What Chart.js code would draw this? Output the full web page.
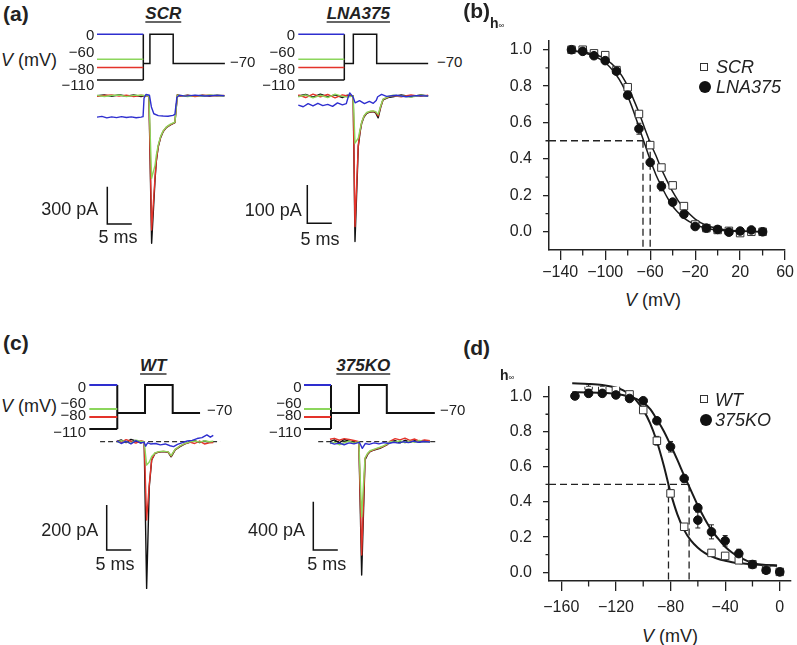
<!DOCTYPE html>
<html>
<head>
<meta charset="utf-8">
<script src="https://cdn.jsdelivr.net/npm/chart.js@4.4.1/dist/chart.umd.min.js"></script>
<style>
  body { margin: 0; background: #fff; }
  #fig { position: relative; width: 797px; height: 645px; overflow: hidden; background: #fff;
         font-family: 'Liberation Sans', Arial, sans-serif; color: #222; }
  #fig canvas { position: absolute; }
  .lb { position: absolute; line-height: 1; white-space: nowrap; }
</style>
</head>
<body>
<div id="fig">
  <canvas id="scr"></canvas>
  <canvas id="lna"></canvas>
  <canvas id="wt"></canvas>
  <canvas id="ko"></canvas>
  <canvas id="panelB"></canvas>
  <canvas id="panelD"></canvas>
</div>
<script>
// ---- voltage protocol (mV) ----
const prepulseLevels = [0, -60, -80, -110];
const testLevel = 0;
const holdLevel = -70;
// prepulse start, prepulse end, test on, test off, end (ms)
const scrProto = [0, 9.45, 10.8, 15.55, 26.1];
const lnaProto = [0, 9.39, 11.23, 16.0, 26.5];
const wtProto = [0, 5.71, 11.37, 17.02, 22.6];
const koProto = [0, 5.51, 11.22, 16.9, 26.7];
const barMs = 5;

// ---- current traces (ms, pA) ----
const scrT = [0, 1.5, 3, 4.5, 6, 7.5, 9, 10, 10.6, 11.15, 11.84, 12.1, 12.5, 13, 13.5, 14.2, 14.9, 15.9, 16.15, 16.4, 17, 18.5, 20, 21.5, 23, 24.5, 26];
const scrBlack = [0, 6, -5, 8, -4, 6, -6, 3, 0, -1186, -678, -530, -410, -335, -289, -255, -236, -217, -110, 8, -3, 5, -4, 4, -3, 5, 0];
const scrRed = [-4, 2, 7, -3, 5, -6, 4, -2, 0, -1080, -660, -520, -405, -330, -286, -252, -234, -215, -105, 6, -5, 3, -6, 2, 4, -3, 2];
const scrGreen = [3, -6, 2, 6, -7, 3, 5, 0, 0, -664, -560, -480, -395, -325, -283, -250, -231, -212, -100, 4, 2, -6, 3, -4, 6, 0, -3];
const scrBlueT = [0, 1, 2, 3, 4, 5, 6, 7, 8, 9, 9.4, 9.6, 10.0, 10.7, 11.1, 11.6, 12.5, 13.5, 14.5, 15.5, 15.9, 16.3, 16.8, 18, 20, 22, 24, 26];
const scrBlue = [-172, -166, -178, -170, -176, -168, -175, -170, -177, -172, -168, -20, 10, 4, -90, -145, -160, -163, -165, -158, -150, -15, 4, -3, 5, -2, 3, 0];

const lnaT = [0, 1.5, 3, 4.5, 6, 7.5, 9, 10, 11.2, 11.57, 12.24, 12.6, 12.94, 13.4, 13.96, 14.6, 15.3, 15.8, 16.3, 16.8, 17.3, 18.3, 19.3, 21, 23, 25, 26.5];
const lnaBlack = [0, 4, -3, 5, -2, 3, -4, 2, 0, -380, -132, -95, -71, -55, -45, -42, -41, -44, -57, -30, -10, -4, -2, 3, -2, 3, 0];
const lnaRed = [3, -4, 5, -2, 4, -5, 3, 0, 0, -341, -128, -92, -69, -53, -44, -41, -40, -42, -52, -28, -9, -3, 1, -2, 3, -1, 2];
const lnaGreen = [-2, 3, -5, 2, -4, 5, -1, -3, 0, -123, -110, -88, -68, -52, -43, -40, -39, -41, -48, -26, -8, -2, 2, 0, -3, 2, -1];
const lnaBlueT = [0, 1, 2, 3, 4, 5, 6, 7, 8, 9, 9.8, 10.2, 10.5, 11.2, 11.6, 12.5, 13.5, 14.5, 15.3, 15.9, 16.2, 17, 18, 20, 22, 24, 26.5];
const lnaBlue = [-24, -28, -20, -26, -19, -25, -22, -27, -18, -23, -20, -2, 8, -3, -18, -12, -20, -14, -19, -12, -2, 4, -1, 2, -2, 1, 0];

const wtT = [5.6, 6.5, 7.5, 8.5, 9.5, 10.5, 11.2, 11.7, 12.24, 12.73, 13.4, 14.2, 15.1, 16.1, 16.7, 17.5, 18.5, 19.5, 20.5, 21.5, 22.5, 23.5, 24.5, 25.3];
const wtBlack = [0, 8, -4, 10, 3, -5, 0, -652, -200, -81, -52, -46, -44, -47, -67, -37, -22, -10, -3, 5, -4, 3, -2, 0];
const wtRed = [4, -3, 9, 2, -6, 4, 0, -348, -190, -80, -51, -45, -43, -46, -64, -35, -20, -9, -2, -8, 3, -10, -5, -4];
const wtGreen = [-2, 5, 0, -6, 7, 2, 0, -104, -90, -66, -50, -44, -42, -45, -62, -34, -19, -8, -1, 3, -2, 4, 0, 2];
const wtBlueT = [5.6, 6.5, 7.5, 8.5, 9.5, 10.5, 11.2, 11.5, 11.9, 12.5, 13.5, 14.5, 15.5, 16.5, 17.2, 18, 19, 20, 21, 22, 23, 24, 24.7, 25.3];
const wtBlue = [4, -8, 2, -10, 5, -6, -2, -20, -5, -10, -8, -14, -10, -18, -22, -12, -4, 3, 6, 14, 18, 30, 20, 28];
const wtBaseT = [2.2, 26.7];

const koT = [5.3, 6.2, 7.2, 8.2, 9.2, 10.2, 11.2, 11.77, 12.45, 13.0, 13.47, 14.1, 14.8, 15.5, 16.2, 16.9, 17.6, 18.6, 19.6, 20.6, 21.6, 22.6, 23.6, 24.6, 25.7];
const koBlack = [0, 15, -10, 18, 5, -8, 0, -1104, -152, -105, -83, -72, -63, -55, -41, -27, 0, 8, -10, 12, -6, 9, -4, 6, 0];
const koRed = [20, 28, 12, 25, 18, 10, 0, -938, -140, -100, -80, -70, -60, -50, -38, -24, 5, 25, 15, 30, 10, 22, 5, 15, 8];
const koGreen = [-15, -5, -25, -10, 5, -12, 0, -621, -135, -95, -75, -65, -55, -46, -34, -20, 2, -5, 8, -10, 4, -6, 10, -3, 2];
const koBlueT = [5.3, 6.2, 7.2, 8.2, 9.2, 10.2, 11.3, 11.9, 12.5, 13.3, 14.3, 15.3, 16.3, 17.3, 18.3, 19.3, 20.3, 21.3, 22.3, 23.3, 24.3, 25.7];
const koBlue = [-8, -20, -12, -25, -10, -18, -5, -55, -15, -22, -10, -18, -8, -15, -5, -12, 0, -8, 5, -5, 2, -3];
const koBaseT = [2.9, 27.0];

// ---- panel (b): steady-state inactivation ----
const bVolt = [-130, -120, -110, -100, -90, -80, -70, -60, -50, -40, -30, -20, -10, 0, 10, 20, 30, 40];
const scrH = [1.0, 1.0, 0.98, 0.97, 0.888, 0.794, 0.647, 0.476, 0.353, 0.255, 0.141, 0.04, 0.02, 0.01, 0.005, -0.007, 0.0, 0.0];
const scrErr = [0, 0, 0, 0, 0, 0.01, 0.01, 0.01, 0.015, 0.01, 0.01, 0, 0, 0, 0, 0, 0, 0];
const lnaH = [1.0, 0.991, 0.967, 0.94, 0.882, 0.75, 0.566, 0.381, 0.25, 0.163, 0.096, 0.029, 0.02, 0.013, -0.002, 0.004, 0.01, 0.0];
const lnaErr = [0, 0, 0, 0, 0, 0.01, 0.03, 0.01, 0.025, 0.01, 0, 0, 0, 0, 0, 0, 0, 0];
const bFitV = [-130, -120, -110, -100, -90, -85, -80, -75, -70, -65, -60, -55, -50, -45, -40, -35, -30, -20, -10, 0, 10, 20, 30, 40];
const scrFit = [0.995, 0.988, 0.975, 0.95, 0.897, 0.855, 0.8, 0.73, 0.655, 0.57, 0.49, 0.42, 0.345, 0.28, 0.22, 0.17, 0.13, 0.07, 0.035, 0.018, 0.008, 0.004, 0.002, 0.001];
const lnaFit = [0.995, 0.985, 0.965, 0.93, 0.86, 0.81, 0.745, 0.665, 0.575, 0.485, 0.395, 0.315, 0.25, 0.19, 0.14, 0.105, 0.075, 0.04, 0.02, 0.01, 0.005, 0.003, 0.001, 0];
const bHalfV = [-66.4, -60];
const bTicksX = [-140, -100, -60, -20, 20, 60];
const bMinorX = [-120, -80, -40, 0, 40];

// ---- panel (d) ----
const wtV = [-140, -130, -120, -110, -100, -90, -80, -70, -50, -40, -30, -20, -10, 0];
const wtH = [1.063, 1.053, 1.042, 1.013, 0.924, 0.749, 0.449, 0.259, 0.11, 0.093, 0.068, 0.045, 0.015, 0.002];
const wtErr = [0.005, 0.005, 0.005, 0.005, 0.01, 0.025, 0.02, 0.015, 0.01, 0.01, 0.01, 0.005, 0, 0];
const koV = [-150, -140, -130, -120, -110, -100, -90, -80, -70, -60, -60, -50, -40, -30, -20, -10, 0];
const koH = [1.004, 1.019, 1.019, 1.01, 0.99, 0.977, 0.863, 0.715, 0.534, 0.367, 0.297, 0.23, 0.179, 0.106, 0.044, 0.011, 0.002];
const koErr = [0.01, 0.005, 0.005, 0.005, 0.005, 0.005, 0.01, 0.03, 0.02, 0.02, 0.045, 0.04, 0.03, 0.025, 0.01, 0.005, 0.005];
const dFitV = [-152, -140, -130, -120, -115, -110, -105, -100, -95, -90, -85, -80, -75, -70, -65, -60, -55, -50, -45, -40, -35, -30, -20, -10, -2];
const wtFit = [1.076, 1.073, 1.067, 1.052, 1.038, 1.015, 0.978, 0.925, 0.85, 0.745, 0.61, 0.455, 0.33, 0.24, 0.18, 0.14, 0.11, 0.09, 0.075, 0.065, 0.057, 0.052, 0.045, 0.041, 0.039];
const koFit = [1.025, 1.024, 1.022, 1.016, 1.01, 1.0, 0.988, 0.966, 0.93, 0.87, 0.805, 0.725, 0.64, 0.55, 0.465, 0.38, 0.305, 0.24, 0.19, 0.145, 0.112, 0.087, 0.053, 0.04, 0.037];
const dHalfV = [-81.5, -66.4];
const dTicksX = [-160, -120, -80, -40, 0];
const dMinorX = [-140, -100, -60, -20];

const hTicksY = [0, 0.2, 0.4, 0.6, 0.8, 1.0];
const hMinorY = [0.1, 0.3, 0.5, 0.7, 0.9];
const halfLevel = 0.5;

const BLUE = '#2e2ecf', GREEN = '#8cd65c', RED = '#e4332a', BLACK = '#111';
const protoColors = [BLUE, GREEN, RED, BLACK];

Chart.defaults.font.family = "'Liberation Sans', Arial, sans-serif";
Chart.defaults.color = '#222';

const pts = (xs, ys) => xs.map((x, i) => ({ x: x, y: ys[i] }));
const fmt = v => (v < 0 ? '\u2212' + Math.abs(v) : String(v));

function place(c, b) {
  c.width = b.w; c.height = b.h;
  c.style.left = b.left + 'px'; c.style.top = b.top + 'px';
}

function line(data, color, axis, order, extra) {
  return Object.assign({
    data: data, borderColor: color, borderWidth: 1.5, showLine: true, pointRadius: 0,
    yAxisID: axis, order: order, tension: 0, borderJoinStyle: 'round'
  }, extra || {});
}

// protocol + current traces + scale bar, scales hidden
function traceChart(id, f, proto, traces, barPa, baseT) {
  const c = document.getElementById(id);
  place(c, f);
  const tMin = (f.left - f.t0x) / f.pxMs, tMax = tMin + f.w / f.pxMs;
  const vMax = (f.v0y - f.top) / f.pxMv, vMin = vMax - f.h / f.pxMv;
  const iMax = (f.i0y - f.top) / f.pxPa, iMin = iMax - f.h / f.pxPa;
  const [t0, tPre, tOn, tOff, tEnd] = proto;
  const pw = { borderWidth: f.protoW, borderJoinStyle: 'miter' };
  const ds = [];
  prepulseLevels.forEach((v, k) => ds.push(line([{ x: t0, y: v }, { x: tPre, y: v }], protoColors[k], 'y', 5, pw)));
  ds.push(line([{ x: tPre, y: Math.max(...prepulseLevels) }, { x: tPre, y: Math.min(...prepulseLevels) }], BLACK, 'y', 5, pw));
  ds.push(line(pts([tPre, tOn, tOn, tOff, tOff, tEnd],
    [holdLevel, holdLevel, testLevel, testLevel, holdLevel, holdLevel]), BLACK, 'y', 5, pw));
  traces.forEach(tr => ds.push(line(pts(tr[0], tr[1]), tr[2], 'i', tr[3], { borderWidth: 1.4 })));
  if (baseT) ds.push(line(pts(baseT, [0, 0]), '#333', 'i', 7, { borderWidth: 1.2, borderDash: [5, 3] }));
  const tb = (f.barX - f.t0x) / f.pxMs, ib = (f.i0y - f.barY) / f.pxPa;
  ds.push(line(pts([tb, tb, tb + barMs], [ib, ib - barPa, ib - barPa]), BLACK, 'i', 6, { borderJoinStyle: 'miter' }));
  return new Chart(c, {
    type: 'scatter',
    data: { datasets: ds },
    options: {
      responsive: false, animation: false, events: [],
      layout: { padding: 0 },
      plugins: { legend: { display: false }, tooltip: { enabled: false } },
      scales: {
        x: { type: 'linear', display: false, min: tMin, max: tMax },
        y: { type: 'linear', display: false, min: vMin, max: vMax },
        i: { type: 'linear', display: false, min: iMin, max: iMax }
      }
    }
  });
}

traceChart('scr', { left: 92, top: 25, w: 142, h: 232, t0x: 97, pxMs: 4.9, v0y: 34.3, pxMv: 0.4155, i0y: 95.7, pxPa: 0.1244, protoW: 1.5, barX: 107.3, barY: 186.7 },
  scrProto, [[scrT, scrBlack, BLACK, 4], [scrT, scrRed, RED, 3], [scrT, scrGreen, GREEN, 2], [scrBlueT, scrBlue, BLUE, 1]], 300);
traceChart('lna', { left: 293, top: 25, w: 142, h: 232, t0x: 298.3, pxMs: 4.9, v0y: 34.3, pxMv: 0.4155, i0y: 96, pxPa: 0.383, protoW: 1.5, barX: 307.3, barY: 185 },
  lnaProto, [[lnaT, lnaBlack, BLACK, 4], [lnaT, lnaRed, RED, 3], [lnaT, lnaGreen, GREEN, 2], [lnaBlueT, lnaBlue, BLUE, 1]], 100);
traceChart('wt', { left: 85, top: 375, w: 142, h: 230, t0x: 89.3, pxMs: 4.9, v0y: 385, pxMv: 0.4, i0y: 441.7, pxPa: 0.225, protoW: 2, barX: 106.7, barY: 505 },
  wtProto, [[wtT, wtBlack, BLACK, 4], [wtT, wtRed, RED, 3], [wtT, wtGreen, GREEN, 2], [wtBlueT, wtBlue, BLUE, 1]], 200, wtBaseT);
traceChart('ko', { left: 300, top: 375, w: 142, h: 230, t0x: 304, pxMs: 4.9, v0y: 385, pxMv: 0.4, i0y: 441.7, pxPa: 0.12075, protoW: 2, barX: 313.3, barY: 501.7 },
  koProto, [[koT, koBlack, BLACK, 4], [koT, koRed, RED, 3], [koT, koGreen, GREEN, 2], [koBlueT, koBlue, BLUE, 1]], 400, koBaseT);

// error bars drawn under the markers
const errorBars = {
  id: 'errorBars',
  beforeDatasetsDraw(chart) {
    const ctx = chart.ctx, ys = chart.scales.y;
    chart.data.datasets.forEach((ds, i) => {
      if (!ds.errors) return;
      chart.getDatasetMeta(i).data.forEach((pt, j) => {
        const e = ds.errors[j];
        if (!e) return;
        const v = ds.data[j].y;
        const y1 = ys.getPixelForValue(v + e), y2 = ys.getPixelForValue(v - e);
        ctx.save();
        ctx.strokeStyle = '#222'; ctx.lineWidth = 1;
        ctx.beginPath();
        ctx.moveTo(pt.x, y1); ctx.lineTo(pt.x, y2);
        ctx.moveTo(pt.x - 2.5, y1); ctx.lineTo(pt.x + 2.5, y1);
        ctx.moveTo(pt.x - 2.5, y2); ctx.lineTo(pt.x + 2.5, y2);
        ctx.stroke();
        ctx.restore();
      });
    });
  }
};

const minorTicks = {
  id: 'minorTicks',
  afterDraw(chart, args, opts) {
    const { ctx, chartArea: a, scales } = chart;
    ctx.save();
    ctx.strokeStyle = '#222'; ctx.lineWidth = 1.3;
    ctx.beginPath();
    (opts.x || []).forEach(v => {
      const px = scales.x.getPixelForValue(v);
      ctx.moveTo(px, a.bottom); ctx.lineTo(px, a.bottom + opts.xLen);
    });
    (opts.y || []).forEach(v => {
      const py = scales.y.getPixelForValue(v);
      ctx.moveTo(a.left - opts.yLen, py); ctx.lineTo(a.left, py);
    });
    ctx.stroke();
    ctx.restore();
  }
};

function hChart(id, box, ax, open, filled, fits, halfV) {
  const c = document.getElementById(id);
  place(c, box);
  const curve = { showLine: true, pointRadius: 0, borderColor: '#1a1a1a', borderWidth: box.fitW, order: 3, cubicInterpolationMode: 'monotone', clip: false };
  const dash = { showLine: true, pointRadius: 0, borderColor: '#222', borderWidth: 1.3, borderDash: [7, 4], order: 4 };
  const datasets = [
    { data: pts(filled[0], filled[1]), errors: filled[2], pointStyle: 'circle', pointRadius: 4.3, backgroundColor: '#111', borderColor: '#111', borderWidth: 1, order: 1 },
    { data: pts(open[0], open[1]), errors: open[2], pointStyle: 'rect', pointRadius: 5.3, backgroundColor: '#fff', borderColor: '#333', borderWidth: 1, order: 2 },
    Object.assign({ data: pts(fits[0], fits[1]) }, curve),
    Object.assign({ data: pts(fits[0], fits[2]) }, curve),
    Object.assign({ data: [{ x: ax.xMin, y: halfLevel }, { x: halfV[1], y: halfLevel }] }, dash),
    Object.assign({ data: [{ x: halfV[0], y: halfLevel }, { x: halfV[0], y: ax.yMin }] }, dash),
    Object.assign({ data: [{ x: halfV[1], y: halfLevel }, { x: halfV[1], y: ax.yMin }] }, dash)
  ];
  return new Chart(c, {
    type: 'scatter',
    data: { datasets: datasets },
    options: {
      responsive: false, animation: false, events: [],
      layout: { padding: { top: box.padTop, right: box.padRight, left: 0, bottom: 0 } },
      plugins: {
        legend: { display: false }, tooltip: { enabled: false },
        minorTicks: { x: ax.minorX, y: hMinorY, xLen: 5.5, yLen: 3.5 }
      },
      scales: {
        x: {
          type: 'linear', min: ax.xMin, max: ax.xMax,
          afterFit: s => { s.height = 35; },
          afterBuildTicks: s => { s.ticks = ax.ticksX.map(v => ({ value: v })); },
          ticks: { autoSkip: false, maxRotation: 0, padding: box.xPad, font: { size: 16 }, color: '#222', callback: v => fmt(v) },
          grid: { drawOnChartArea: false, drawTicks: true, tickLength: 10, color: '#222', lineWidth: 1.3 },
          border: { display: true, color: '#222', width: 1.5 }
        },
        y: {
          type: 'linear', min: ax.yMin, max: ax.yMax,
          afterFit: s => { s.width = 79; },
          afterBuildTicks: s => { s.ticks = hTicksY.map(v => ({ value: v })); },
          ticks: { autoSkip: false, padding: 11, font: { size: 16 }, color: '#222', callback: v => v.toFixed(1) },
          grid: { drawOnChartArea: false, drawTicks: true, tickLength: 6, color: '#222', lineWidth: 1.3 },
          border: { display: true, color: '#222', width: 1.5 }
        }
      }
    },
    plugins: [errorBars, minorTicks]
  });
}

hChart('panelB', { left: 470, top: 20, w: 327, h: 265, padTop: 17, padRight: 10, xPad: 3, fitW: 1.5 },
  { xMin: -150, xMax: 60, yMin: -0.1, yMax: 1.05, ticksX: bTicksX, minorX: bMinorX },
  [bVolt, scrH, scrErr], [bVolt, lnaH, lnaErr], [bFitV, scrFit, lnaFit], bHalfV);
hChart('panelD', { left: 470, top: 365, w: 327, h: 251, padTop: 21.7, padRight: 5.3, xPad: 7, fitW: 2 },
  { xMin: -169, xMax: 8, yMin: -0.05, yMax: 1.057, ticksX: dTicksX, minorX: dMinorX },
  [wtV, wtH, wtErr], [koV, koH, koErr], [dFitV, wtFit, koFit], dHalfV);

// ---- text labels ----
const fig = document.getElementById('fig');
function label(html, x, base, size, align, style) {
  const d = document.createElement('div');
  d.className = 'lb';
  d.innerHTML = html;
  d.style.fontSize = size + 'px';
  d.style.top = (base - 0.8465 * size) + 'px';
  d.style.left = x + 'px';
  if (align === 'right') d.style.transform = 'translateX(-100%)';
  else if (align === 'center') d.style.transform = 'translateX(-50%)';
  if (style) d.style.cssText += style;
  fig.appendChild(d);
}
function marker(cx, cy, size, round) {
  const d = document.createElement('div');
  d.style.cssText = 'position:absolute;box-sizing:border-box;left:' + (cx - size / 2) + 'px;top:' + (cy - size / 2) + 'px;width:' + size + 'px;height:' + size + 'px;' +
    (round ? 'background:#111;border-radius:50%;' : 'background:#fff;border:1px solid #333;');
  fig.appendChild(d);
}

const bold = 'font-weight:bold;';
const title = 'font-weight:bold;font-style:italic;text-decoration:underline;text-decoration-thickness:2px;text-underline-offset:2px;text-decoration-color:#666;';
const M = '\u2212';
const vmv = '<i>V</i> (mV)';
const hinf = '<b>h</b><span style="font-size:8px">\u221e</span>';

// (a)
label('(a)', 3, 20.7, 21, 'left', bold);
label('SCR', 163.3, 19.3, 17, 'center', title);
label('LNA375', 358.3, 19.3, 17, 'center', title);
label(vmv, 1, 66.7, 18, 'left');
[[94.3, 0], [295, 1]].forEach(([x]) => {
  label('0', x, 39.3, 15, 'right');
  label(M + '60', x, 56.7, 15, 'right');
  label(M + '80', x, 74, 15, 'right');
  label(M + '110', x, 90, 15, 'right');
});
label(M + '70', 230, 66.7, 15, 'left');
label(M + '70', 437, 66.7, 15, 'left');
label('300 pA', 98.3, 215, 18, 'right');
label('5 ms', 118, 243.3, 18, 'center');
label('100 pA', 301.7, 216, 18, 'right');
label('5 ms', 320, 245, 18, 'center');

// (c)
label('(c)', 3, 350, 21, 'left', bold);
label('WT', 153.3, 371, 17, 'center', title);
label('375KO', 363.3, 371, 17, 'center', title);
label(vmv, 1, 412, 18, 'left');
[86, 301.7].forEach(x => {
  label('0', x, 391.7, 15, 'right');
  label(M + '60', x, 407.3, 15, 'right');
  label(M + '80', x, 420, 15, 'right');
  label(M + '110', x, 436.5, 15, 'right');
});
label(M + '70', 207, 415, 15, 'left');
label(M + '70', 440, 415, 15, 'left');
label('200 pA', 98.3, 536, 18, 'right');
label('5 ms', 115, 570, 18, 'center');
label('400 pA', 305, 536, 18, 'right');
label('5 ms', 326.7, 570, 18, 'center');

// (b)
label('(b)', 463.3, 17.3, 21, 'left', bold);
label(hinf, 490, 28, 14, 'left');
marker(704, 67, 8.5, false);
label('<i>SCR</i>', 716, 73, 18, 'left');
marker(705, 87, 12, true);
label('<i>LNA375</i>', 716, 93.3, 18, 'left');
label(vmv, 653, 306, 18, 'center');

// (d)
label('(d)', 463.3, 355, 21, 'left', bold);
label(hinf, 500, 380, 14, 'left');
marker(704, 399, 8.5, false);
label('<i>WT</i>', 715, 406, 18, 'left');
marker(706, 420, 12.5, true);
label('<i>375KO</i>', 715, 426, 18, 'left');
label(vmv, 670, 642, 18, 'center');
</script>
</body>
</html>
